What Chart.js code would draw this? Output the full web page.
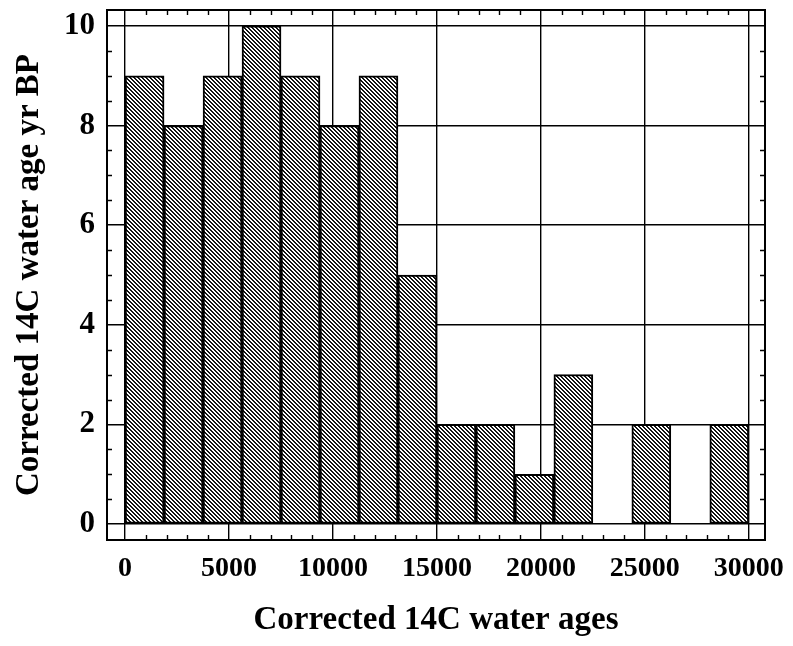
<!DOCTYPE html>
<html><head><meta charset="utf-8">
<script src="https://cdn.jsdelivr.net/npm/chart.js@4"></script>
<style>html,body{margin:0;padding:0;background:#fff}canvas{display:block}</style>
</head><body>
<canvas id="c" width="793" height="646"></canvas>
<script>
// Histogram bins (corrected 14C water ages) and counts
const binStarts = [0, 1875, 3750, 5625, 7500, 9375, 11250, 13125, 15000, 16875, 18750, 20625, 22500, 24375, 26250, 28125];
const binEnds   = [1875, 3750, 5625, 7500, 9375, 11250, 13125, 15000, 16875, 18750, 20625, 22500, 24375, 26250, 28125, 30000];
const counts    = [9, 8, 9, 10, 9, 8, 9, 5, 2, 2, 1, 3, 0, 2, 0, 2];
const xTickValues = [0, 5000, 10000, 15000, 20000, 25000, 30000];
const yTickValues = [0, 2, 4, 6, 8, 10];
const xTitle = 'Corrected 14C water ages';
const yTitle = 'Corrected 14C water age yr BP';

const FONT = "'Liberation Serif', 'Times New Roman', serif";

function makeHatch() {
  const s = 4;
  const c = document.createElement('canvas');
  c.width = s; c.height = s;
  const g = c.getContext('2d');
  const img = g.createImageData(s, s);
  for (let j = 0; j < s; j++) {
    for (let i = 0; i < s; i++) {
      const k = (j * s + i) * 4;
      const on = (((i - j) % s) + s) % s < 2;
      const v = on ? 20 : 255;
      img.data[k] = v; img.data[k+1] = v; img.data[k+2] = v; img.data[k+3] = 255;
    }
  }
  g.putImageData(img, 0, 0);
  return document.getElementById('c').getContext('2d').createPattern(c, 'repeat');
}

const framePlugin = {
  id: 'frame',
  afterDatasetsDraw(chart) {
    const {ctx, chartArea: a, scales: {x, y}} = chart;
    ctx.save();
    ctx.strokeStyle = '#000';
    ctx.lineWidth = 1.4;
    const tl = 5;
    ctx.beginPath();
    for (let v = 1000; v < 30000; v += 1000) {
      if (v % 5000 === 0) continue;
      const px = Math.round(x.getPixelForValue(v)) + 0.5;
      ctx.moveTo(px, a.top); ctx.lineTo(px, a.top + tl);
      ctx.moveTo(px, a.bottom); ctx.lineTo(px, a.bottom - tl);
    }
    for (let v = 0.5; v < 10; v += 0.5) {
      if (v % 2 === 0) continue;
      const py = Math.round(y.getPixelForValue(v)) + 0.5;
      ctx.moveTo(a.left, py); ctx.lineTo(a.left + tl, py);
      ctx.moveTo(a.right, py); ctx.lineTo(a.right - tl, py);
    }
    ctx.stroke();
    ctx.lineWidth = 2;
    ctx.strokeRect(a.left, a.top, a.right - a.left, a.bottom - a.top);
    ctx.restore();
  }
};

const hatch = makeHatch();
const points = counts.map((c, i) => ({x: (binStarts[i] + binEnds[i]) / 2, y: c}));

new Chart(document.getElementById('c'), {
  type: 'bar',
  data: {
    datasets: [{
      data: points,
      backgroundColor: hatch,
      borderColor: '#000',
      borderWidth: 2,
      borderSkipped: false,
      barPercentage: 1,
      categoryPercentage: 1
    }]
  },
  options: {
    responsive: false,
    animation: false,
    devicePixelRatio: 1,
    events: [],
    layout: {padding: {top: 10, right: 28, left: 0, bottom: 0}},
    plugins: {legend: {display: false}, tooltip: {enabled: false}},
    scales: {
      x: {
        type: 'linear',
        offset: false,
        min: -870, max: 30780,
        afterBuildTicks: s => { s.ticks = xTickValues.map(v => ({value: v})); },
        afterFit: s => { s.height = 106; s.paddingLeft = 0; s.paddingRight = 0; },
        grid: {color: '#000', lineWidth: 1.4, drawTicks: false, offset: false},
        border: {display: false},
        ticks: {
          color: '#000', padding: 12, maxRotation: 0, autoSkip: false,
          font: {family: FONT, weight: 'bold', size: 28},
          callback: v => String(v)
        },
        title: {
          display: true, text: xTitle, color: '#000',
          font: {family: FONT, weight: 'bold', size: 33},
          padding: {top: 0, bottom: 6}
        }
      },
      y: {
        type: 'linear',
        min: -0.32, max: 10.32,
        afterBuildTicks: s => { s.ticks = yTickValues.map(v => ({value: v})); },
        afterFit: s => { s.width = 107; s.paddingTop = 0; s.paddingBottom = 0; },
        grid: {color: '#000', lineWidth: 1.4, drawTicks: false},
        border: {display: false},
        ticks: {
          color: '#000', padding: 12, autoSkip: false,
          font: {family: FONT, weight: 'bold', size: 31},
          callback: v => String(v)
        },
        title: {
          display: true, text: yTitle, color: '#000',
          font: {family: FONT, weight: 'bold', size: 33},
          padding: {top: 10, bottom: 0}
        }
      }
    }
  },
  plugins: [framePlugin]
});
</script>
</body></html>
